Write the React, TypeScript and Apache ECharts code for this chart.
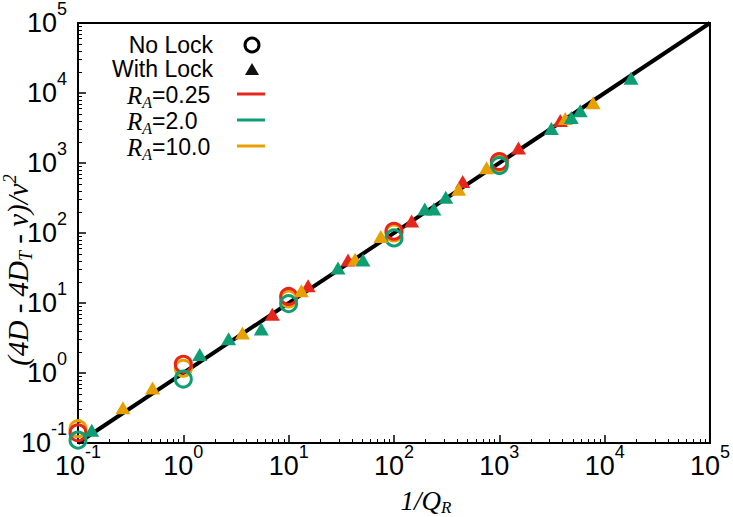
import { useEffect, useRef } from "react";
import * as echarts from "echarts";

// Colours for the three R_A values
const RED = "#e6261a";
const GREEN = "#0e9e75";
const ORANGE = "#e8a000";

// "No Lock" runs: one point per decade of 1/Q_R
const noLockX = [0.1, 1, 10, 100, 1000];
const noLockRed = [0.14, 1.33, 12.4, 106, 1050];
const noLockGreen = [0.11, 0.82, 9.8, 85, 920];
const noLockOrange = [0.16, 1.17, 11.4, 100, 1000];

// "With Lock" runs
const lockRedX = [7.0, 15.3, 36.6, 147, 449, 1520, 3790];
const lockRedY = [6.9, 17.7, 41, 149, 545, 1633, 4050];
const lockGreenX = [0.135, 1.43, 2.69, 5.5, 29.4, 50.8, 196, 239, 310, 3120, 4820, 5860, 17800];
const lockGreenY = [0.152, 1.84, 3.08, 4.26, 31.6, 41, 220, 220, 324, 3120, 4460, 5590, 16300];
const lockOrangeX = [0.267, 0.51, 3.64, 13.2, 42.7, 75, 411, 757, 4230, 7780];
const lockOrangeY = [0.32, 0.61, 3.74, 15.0, 42.3, 89, 421, 857, 4310, 7250];

// Reference line y = x across the full range
const diagonalEnds = [0.1, 100000];

// Decade exponents shown as tick labels on both axes
const decadeExponents = [-1, 0, 1, 2, 3, 4, 5];

// Legend entries
const legendMarkers = ["No Lock", "With Lock"];
const legendRatios = ["0.25", "2.0", "10.0"];

const SANS = "'Liberation Sans', Arial, Helvetica, sans-serif";
const SERIF = "'Liberation Serif', 'Times New Roman', serif";

const zip = (xs: number[], ys: number[]) => xs.map((x, i) => [x, ys[i]]);

function decadeLabel(v: number): string {
  const e = Math.round(Math.log10(v));
  if (!decadeExponents.includes(e)) return "";
  return `{b|10}{s|${e}}`;
}

const tickRich = {
  b: { fontFamily: SANS, fontSize: 27, lineHeight: 46, color: "#000", verticalAlign: "middle" },
  s: { fontFamily: SANS, fontSize: 18, color: "#000", verticalAlign: "top" },
};

function axisCommon(margin: number) {
  return {
    type: "log" as const,
    logBase: 10,
    min: 0.1,
    max: 100000,
    axisLine: { show: true, lineStyle: { color: "#000", width: 2 } },
    axisTick: { show: true, inside: true, length: 8, lineStyle: { color: "#000", width: 1.5 } },
    minorTick: { show: true, splitNumber: 9, length: 4, lineStyle: { color: "#000", width: 1 } },
    splitLine: { show: false },
    minorSplitLine: { show: false },
    axisLabel: {
      margin,
      formatter: decadeLabel,
      rich: tickRich,
      showMinLabel: true,
      showMaxLabel: true,
    },
  };
}

function ringSeries(ys: number[], color: string) {
  return {
    type: "scatter",
    data: zip(noLockX, ys),
    symbol: "circle",
    symbolSize: 16,
    clip: false,
    itemStyle: { color: "rgba(0,0,0,0)", borderColor: color, borderWidth: 3, opacity: 1 },
    z: 3,
  };
}

function triangleSeries(xs: number[], ys: number[], color: string) {
  return {
    type: "scatter",
    data: zip(xs, ys),
    symbol: "triangle",
    symbolSize: [15, 13],
    clip: false,
    itemStyle: { color, opacity: 1 },
    z: 4,
  };
}

function buildGraphic() {
  const ratioColors = [RED, GREEN, ORANGE];
  const items: any[] = [];
  const markerRows = [45, 69];
  legendMarkers.forEach((label, i) => {
    items.push({
      type: "text",
      x: 213,
      y: markerRows[i],
      style: {
        text: label,
        fontFamily: SANS,
        fontSize: 23,
        fill: "#000",
        align: "right",
        verticalAlign: "middle",
      },
    });
  });
  items.push({
    type: "circle",
    shape: { cx: 252, cy: 45, r: 7 },
    style: { fill: "none", stroke: "#000", lineWidth: 3 },
  });
  items.push({
    type: "polygon",
    shape: { points: [[245, 75], [259, 75], [252, 63]] },
    style: { fill: "#111" },
  });
  const ratioRows = [95, 121, 147];
  legendRatios.forEach((r, i) => {
    items.push({
      type: "text",
      x: 127,
      y: ratioRows[i],
      style: {
        text: `{r|R}{a|A}{t|=${r}}`,
        align: "left",
        verticalAlign: "middle",
        rich: {
          r: { fontFamily: SERIF, fontStyle: "italic", fontSize: 25, lineHeight: 30, fill: "#000" },
          a: { fontFamily: SERIF, fontStyle: "italic", fontSize: 16, fill: "#000", verticalAlign: "bottom" },
          t: { fontFamily: SANS, fontSize: 23, lineHeight: 30, fill: "#000" },
        },
      },
    });
    items.push({
      type: "line",
      shape: { x1: 237, y1: ratioRows[i] - 1, x2: 265, y2: ratioRows[i] - 1 },
      style: { stroke: ratioColors[i], lineWidth: 3 },
    });
  });
  // x-axis title 1/Q_R
  items.push({
    type: "text",
    x: 426,
    y: 501,
    style: {
      text: "{m|1/Q}{d|R}",
      align: "center",
      verticalAlign: "middle",
      rich: {
        m: { fontFamily: SERIF, fontStyle: "italic", fontSize: 27, lineHeight: 30, fill: "#000" },
        d: { fontFamily: SERIF, fontStyle: "italic", fontSize: 17, fill: "#000", verticalAlign: "bottom" },
      },
    },
  });
  // y-axis title (4D - 4D_T - v)/v^2, reading bottom to top
  items.push({
    type: "text",
    x: 18,
    y: 270,
    rotation: Math.PI / 2,
    style: {
      text: "{m|(4D - 4D}{d|T}{m| - v)/v}{u|2}",
      align: "center",
      verticalAlign: "middle",
      rich: {
        m: { fontFamily: SERIF, fontStyle: "italic", fontSize: 29, lineHeight: 34, fill: "#000" },
        d: { fontFamily: SERIF, fontStyle: "italic", fontSize: 18, fill: "#000", verticalAlign: "bottom" },
        u: { fontFamily: SERIF, fontStyle: "italic", fontSize: 18, fill: "#000", verticalAlign: "top" },
      },
    },
  });
  return items;
}

export default function App() {
  const ref = useRef<HTMLDivElement>(null);

  useEffect(() => {
    if (!ref.current) return;
    const chart = echarts.init(ref.current, undefined, { renderer: "svg" });
    chart.setOption({
      animation: false,
      backgroundColor: "#fff",
      grid: {
        left: 78,
        right: 21,
        top: 16,
        bottom: 74,
        show: true,
        borderColor: "#000",
        borderWidth: 2,
        backgroundColor: "rgba(0,0,0,0)",
      },
      xAxis: axisCommon(0),
      yAxis: axisCommon(11),
      series: [
        {
          type: "line",
          data: zip(diagonalEnds, diagonalEnds),
          symbol: "none",
          lineStyle: { color: "#000", width: 4 },
          z: 2,
          silent: true,
        },
        ringSeries(noLockOrange, ORANGE),
        ringSeries(noLockRed, RED),
        ringSeries(noLockGreen, GREEN),
        triangleSeries(lockRedX, lockRedY, RED),
        triangleSeries(lockOrangeX, lockOrangeY, ORANGE),
        triangleSeries(lockGreenX, lockGreenY, GREEN),
      ],
      graphic: buildGraphic(),
    });
    return () => chart.dispose();
  }, []);

  return <div ref={ref} style={{ width: 733, height: 517, position: "absolute", left: 0, top: 0 }} />;
}
